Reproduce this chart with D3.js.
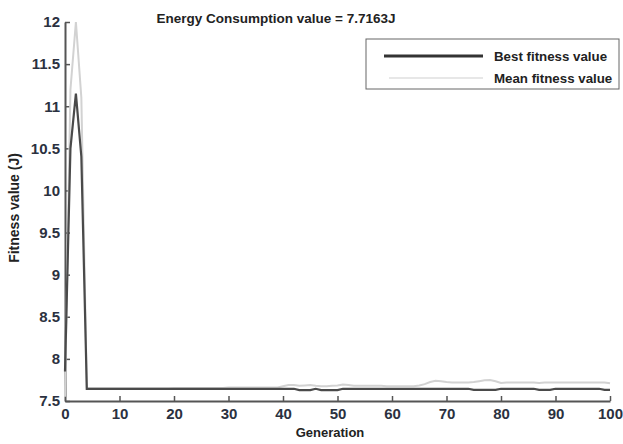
<!DOCTYPE html>
<html>
<head>
<meta charset="utf-8">
<script src="https://cdn.jsdelivr.net/npm/d3@7"></script>
<style>
  body { margin: 0; background: #fff; }
  text { font-family: "Liberation Sans", Arial, sans-serif; font-weight: bold; }
</style>
</head>
<body>
<div id="chart"></div>
<script>
// generations 0..100
const generations = d3.range(0, 101);

const bestFitness = [
  7.85, 10.5, 11.15, 10.4, 7.645, 7.645, 7.645, 7.645, 7.645, 7.645,
  7.645, 7.645, 7.645, 7.645, 7.645, 7.645, 7.645, 7.645, 7.645, 7.645,
  7.645, 7.645, 7.645, 7.645, 7.645, 7.645, 7.645, 7.645, 7.645, 7.645,
  7.645, 7.645, 7.645, 7.645, 7.645, 7.645, 7.645, 7.645, 7.645, 7.645,
  7.645, 7.645, 7.645, 7.63, 7.63, 7.63, 7.645, 7.63, 7.63, 7.63,
  7.63, 7.645, 7.645, 7.645, 7.645, 7.645, 7.645, 7.645, 7.645, 7.645,
  7.645, 7.645, 7.645, 7.645, 7.645, 7.645, 7.645, 7.645, 7.645, 7.645,
  7.645, 7.645, 7.645, 7.645, 7.645, 7.632, 7.632, 7.632, 7.632, 7.632,
  7.645, 7.645, 7.645, 7.645, 7.645, 7.645, 7.645, 7.632, 7.632, 7.632,
  7.645, 7.645, 7.645, 7.645, 7.645, 7.645, 7.645, 7.645, 7.645, 7.632,
  7.632
];

const meanFitness = [
  7.55, 11.2, 12.0, 11.1, 7.65, 7.65, 7.65, 7.65, 7.65, 7.65,
  7.65, 7.65, 7.65, 7.65, 7.65, 7.65, 7.65, 7.65, 7.65, 7.65,
  7.655, 7.655, 7.655, 7.655, 7.655, 7.655, 7.655, 7.655, 7.655, 7.655,
  7.66, 7.66, 7.66, 7.66, 7.66, 7.66, 7.66, 7.66, 7.66, 7.66,
  7.675, 7.69, 7.69, 7.68, 7.685, 7.69, 7.68, 7.675, 7.675, 7.68,
  7.685, 7.695, 7.69, 7.68, 7.68, 7.68, 7.68, 7.68, 7.68, 7.675,
  7.675, 7.675, 7.675, 7.675, 7.675, 7.685, 7.7, 7.725, 7.74, 7.735,
  7.725, 7.72, 7.72, 7.72, 7.72, 7.725, 7.735, 7.745, 7.75, 7.735,
  7.715, 7.72, 7.72, 7.72, 7.72, 7.72, 7.72, 7.715, 7.72, 7.72,
  7.72, 7.72, 7.72, 7.72, 7.72, 7.72, 7.72, 7.72, 7.72, 7.72,
  7.71
];

const xTicks = [0, 10, 20, 30, 40, 50, 60, 70, 80, 90, 100];
const yTicks = [7.5, 8, 8.5, 9, 9.5, 10, 10.5, 11, 11.5, 12];
const seriesNames = ["Best fitness value", "Mean fitness value"];
const titleText = "Energy Consumption value = 7.7163J";

const width = 623, height = 444;
const margin = {left: 65, right: 13, top: 22, bottom: 43};

const svg = d3.select("#chart").append("svg")
    .attr("width", width)
    .attr("height", height);

const xScale = d3.scaleLinear()
    .domain([0, 100])
    .range([margin.left, width - margin.right]);
const yScale = d3.scaleLinear()
    .domain([7.5, 12])
    .range([height - margin.bottom, margin.top]);

//axes
const xAxis = svg.append("g")
    .attr("transform", "translate(0," + (height - margin.bottom) + ")")
    .call(d3.axisBottom(xScale).tickValues(xTicks).tickSizeInner(-5).tickSizeOuter(0).tickPadding(7));
const yAxis = svg.append("g")
    .attr("transform", "translate(" + margin.left + ",0)")
    .call(d3.axisLeft(yScale).tickValues(yTicks).tickFormat(d => String(d)).tickSizeInner(-5).tickSizeOuter(0).tickPadding(5));

[xAxis, yAxis].forEach(ax => {
    ax.select(".domain").attr("stroke", "#555").attr("stroke-width", 2);
    ax.selectAll(".tick line").attr("stroke", "#555").attr("stroke-width", 1.5);
    ax.selectAll(".tick text")
        .attr("fill", "#2b3140")
        .style("font-size", "15px")
        .style("font-family", "'Liberation Sans', Arial, sans-serif")
        .style("font-weight", "bold");
});
xAxis.selectAll(".tick").filter(d => d === 0).select("line").remove();

//lines
const line = vals => d3.line()
    .x((d, i) => xScale(generations[i]))
    .y(d => yScale(d))(vals);

svg.append("path")
    .attr("d", line(meanFitness))
    .attr("fill", "none")
    .attr("stroke", "#d2d2d2")
    .attr("stroke-width", 2);

svg.append("path")
    .attr("d", line(bestFitness))
    .attr("fill", "none")
    .attr("stroke", "#4a4a4a")
    .attr("stroke-width", 2.2);

//title & labels
svg.append("text")
    .attr("x", 276).attr("y", 23)
    .attr("text-anchor", "middle")
    .attr("fill", "#222")
    .style("font-size", "13.5px")
    .text(titleText);

svg.append("text")
    .attr("x", 330).attr("y", 437)
    .attr("text-anchor", "middle")
    .attr("fill", "#222")
    .style("font-size", "13px")
    .text("Generation");

svg.append("text")
    .attr("transform", "translate(19,208) rotate(-90)")
    .attr("text-anchor", "middle")
    .attr("fill", "#222")
    .style("font-size", "14px")
    .text("Fitness value (J)");

//legend
const legend = svg.append("g");
legend.append("rect")
    .attr("x", 366).attr("y", 39)
    .attr("width", 253).attr("height", 50)
    .attr("fill", "#fff")
    .attr("stroke", "#666")
    .attr("stroke-width", 1);
const legendStyles = [
    {stroke: "#333", w: 2.8, x1: 384, y: 56},
    {stroke: "#cfcfcf", w: 1.2, x1: 389, y: 78}
];
seriesNames.forEach((name, i) => {
    const s = legendStyles[i];
    legend.append("line")
        .attr("x1", s.x1).attr("x2", 483)
        .attr("y1", s.y).attr("y2", s.y)
        .attr("stroke", s.stroke)
        .attr("stroke-width", s.w);
    legend.append("text")
        .attr("x", 494).attr("y", s.y + 5)
        .attr("fill", "#222")
        .style("font-size", "13.3px")
        .text(name);
});
</script>
</body>
</html>
